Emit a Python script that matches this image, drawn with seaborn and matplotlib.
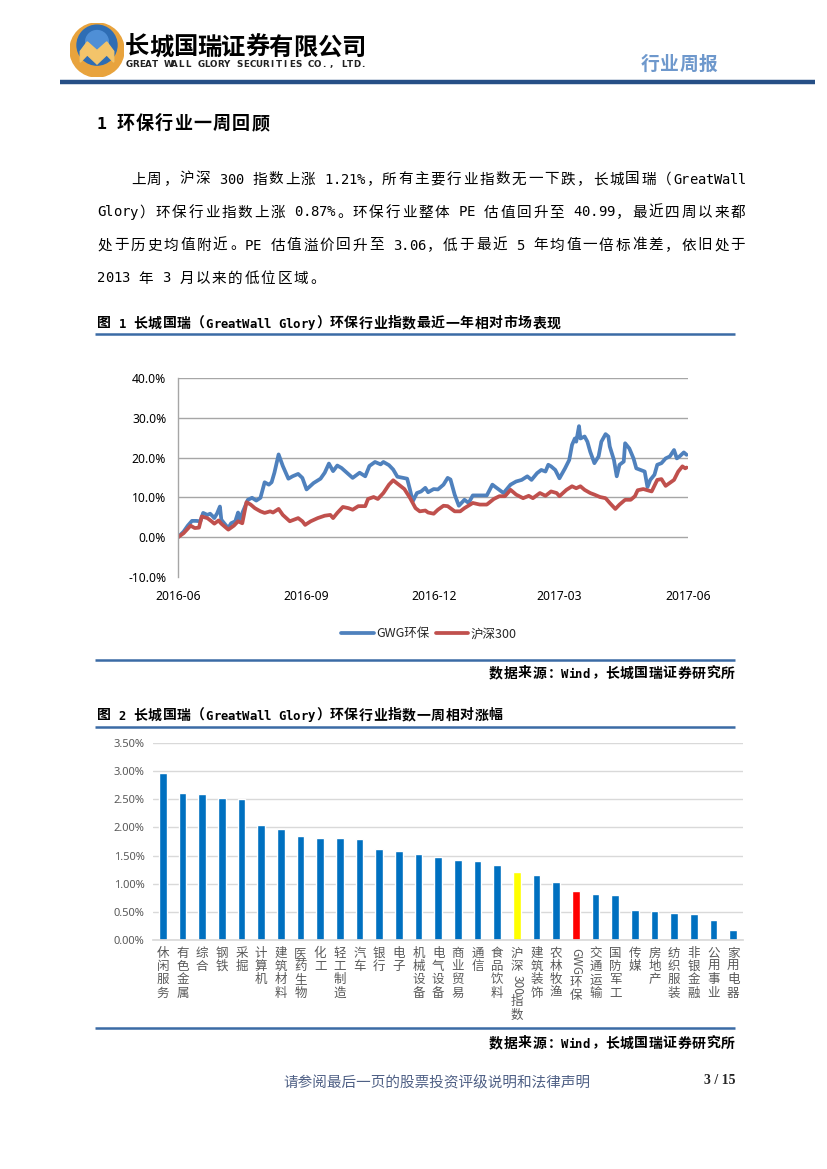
#!/usr/bin/env python3
"""
Rebuilds page 3 of the GWG weekly report: header, intro text,
the one-year relative performance line chart and the weekly
sector return bar chart.
"""

import re

import matplotlib
matplotlib.use('Agg')
import matplotlib.pyplot as plt
import matplotlib.transforms as mtransforms
import matplotlib.ticker as mticker
from matplotlib.lines import Line2D
from matplotlib.patches import Circle, Polygon
import pandas as pd
import seaborn as sns

# ---------------------------------------------------------------- data
gwg_dates = [
    '2016-06-01', '2016-06-05', '2016-06-08', '2016-06-11', '2016-06-14', '2016-06-17',
    '2016-06-19', '2016-06-22', '2016-06-24', '2016-06-26', '2016-06-27', '2016-06-29',
    '2016-07-01', '2016-07-02', '2016-07-05', '2016-07-07', '2016-07-09', '2016-07-12',
    '2016-07-14', '2016-07-15', '2016-07-18', '2016-07-21', '2016-07-24', '2016-07-27',
    '2016-07-30', '2016-08-02', '2016-08-05', '2016-08-07', '2016-08-09', '2016-08-12',
    '2016-08-15', '2016-08-19', '2016-08-22', '2016-08-26', '2016-08-29', '2016-09-01',
    '2016-09-06', '2016-09-11', '2016-09-14', '2016-09-17', '2016-09-20', '2016-09-23',
    '2016-09-26', '2016-10-04', '2016-10-09', '2016-10-13', '2016-10-16', '2016-10-20',
    '2016-10-24', '2016-10-26', '2016-10-30', '2016-11-02', '2016-11-05', '2016-11-12',
    '2016-11-14', '2016-11-16', '2016-11-19', '2016-11-22', '2016-11-25', '2016-11-27',
    '2016-12-01', '2016-12-04', '2016-12-08', '2016-12-11', '2016-12-13', '2016-12-16',
    '2016-12-19', '2016-12-23', '2016-12-26', '2016-12-29', '2017-01-03', '2017-01-08',
    '2017-01-12', '2017-01-15', '2017-01-20', '2017-01-25', '2017-01-29', '2017-02-02',
    '2017-02-06', '2017-02-09', '2017-02-13', '2017-02-16', '2017-02-19', '2017-02-21',
    '2017-02-23', '2017-02-26', '2017-03-01', '2017-03-05', '2017-03-08', '2017-03-10',
    '2017-03-12', '2017-03-13', '2017-03-15', '2017-03-16', '2017-03-19', '2017-03-21',
    '2017-03-23', '2017-03-26', '2017-03-29', '2017-03-31', '2017-04-03', '2017-04-05',
    '2017-04-06', '2017-04-09', '2017-04-11', '2017-04-13', '2017-04-16', '2017-04-17',
    '2017-04-20', '2017-04-23', '2017-04-25', '2017-04-28', '2017-05-01', '2017-05-03',
    '2017-05-05', '2017-05-08', '2017-05-10', '2017-05-13', '2017-05-16', '2017-05-19',
    '2017-05-22', '2017-05-24', '2017-05-26', '2017-05-29', '2017-05-31',
]
gwg_pct = [
    0.0, 1.4, 2.9, 4.1, 4.1, 4.0,
    6.1, 5.6, 5.9, 5.2, 4.8, 6.0,
    7.7, 4.4, 3.1, 2.3, 3.5, 4.0,
    6.2, 4.4, 6.9, 9.4, 9.9, 9.2,
    9.9, 13.8, 13.2, 13.8, 16.2, 20.8,
    17.9, 14.7, 15.3, 15.9, 14.9, 12.0,
    13.6, 14.7, 16.2, 18.5, 16.6, 18.0,
    17.4, 14.9, 16.2, 15.3, 17.9, 18.9,
    18.3, 18.9, 18.1, 17.0, 15.2, 14.7,
    12.0, 9.0, 11.1, 11.5, 12.4, 11.3,
    12.1, 12.0, 13.2, 14.9, 14.5, 10.7,
    7.9, 9.4, 8.6, 10.5, 10.5, 10.5,
    13.2, 12.4, 11.1, 13.2, 14.0, 14.4,
    15.3, 14.4, 16.1, 16.9, 16.5, 18.2,
    17.8, 16.9, 14.8, 17.3, 19.4, 23.2,
    24.8, 24.0, 27.9, 24.8, 25.3, 24.0,
    21.5, 18.6, 20.3, 24.0, 25.9, 25.3,
    22.8, 19.4, 15.3, 18.2, 19.0, 23.6,
    22.3, 19.8, 17.3, 16.9, 16.5, 12.6,
    14.4, 15.7, 18.2, 18.6, 19.8, 20.3,
    21.9, 19.8, 20.3, 21.3, 20.7,
]

hs300_dates = [
    '2016-06-01', '2016-06-05', '2016-06-10', '2016-06-13', '2016-06-16', '2016-06-18',
    '2016-06-22', '2016-06-25', '2016-06-27', '2016-06-30', '2016-07-02', '2016-07-07',
    '2016-07-11', '2016-07-14', '2016-07-17', '2016-07-20', '2016-07-23', '2016-07-26',
    '2016-07-30', '2016-08-02', '2016-08-06', '2016-08-08', '2016-08-12', '2016-08-15',
    '2016-08-20', '2016-08-26', '2016-08-29', '2016-08-31', '2016-09-04', '2016-09-09',
    '2016-09-14', '2016-09-18', '2016-09-20', '2016-09-23', '2016-09-27', '2016-10-01',
    '2016-10-04', '2016-10-08', '2016-10-13', '2016-10-15', '2016-10-19', '2016-10-22',
    '2016-10-26', '2016-10-30', '2016-11-02', '2016-11-06', '2016-11-10', '2016-11-14',
    '2016-11-18', '2016-11-21', '2016-11-25', '2016-11-27', '2016-12-01', '2016-12-04',
    '2016-12-08', '2016-12-11', '2016-12-16', '2016-12-20', '2016-12-23', '2016-12-29',
    '2017-01-03', '2017-01-08', '2017-01-13', '2017-01-17', '2017-01-21', '2017-01-25',
    '2017-01-29', '2017-02-03', '2017-02-07', '2017-02-10', '2017-02-15', '2017-02-19',
    '2017-02-23', '2017-02-27', '2017-03-01', '2017-03-06', '2017-03-10', '2017-03-13',
    '2017-03-16', '2017-03-19', '2017-03-23', '2017-03-26', '2017-03-30', '2017-04-03',
    '2017-04-06', '2017-04-10', '2017-04-13', '2017-04-17', '2017-04-21', '2017-04-24',
    '2017-04-26', '2017-04-30', '2017-05-02', '2017-05-06', '2017-05-10', '2017-05-13',
    '2017-05-16', '2017-05-18', '2017-05-22', '2017-05-25', '2017-05-28', '2017-05-30',
    '2017-05-31',
]
hs300_pct = [
    0.0, 1.0, 2.9, 2.3, 2.4, 5.2,
    4.8, 4.0, 3.4, 4.2, 3.4, 1.9,
    2.9, 4.0, 3.5, 8.8, 8.2, 7.3,
    6.5, 6.1, 6.5, 6.2, 7.1, 5.6,
    4.0, 4.8, 4.0, 3.1, 4.0, 4.8,
    5.4, 5.6, 4.8, 6.1, 7.6, 7.3,
    6.9, 7.8, 7.8, 9.6, 10.1, 9.6,
    11.1, 13.2, 14.3, 13.2, 12.1, 9.9,
    7.3, 6.5, 6.7, 6.2, 5.9, 6.9,
    7.9, 7.8, 6.5, 6.5, 7.3, 8.6,
    8.2, 8.2, 9.6, 10.3, 10.3, 11.9,
    10.7, 9.8, 10.4, 9.8, 11.1, 10.4,
    11.5, 11.1, 10.3, 11.9, 12.8, 12.3,
    12.8, 11.9, 11.1, 10.7, 10.1, 9.8,
    8.6, 7.1, 8.2, 9.4, 9.4, 10.3,
    11.8, 12.1, 11.9, 11.5, 14.4, 14.6,
    12.9, 13.4, 14.4, 16.5, 17.8, 17.3,
    17.5,
]

line_ticks = ['2016-06-01', '2016-09-01', '2016-12-01', '2017-03-01', '2017-06-01']
line_tick_labels = ['2016-06', '2016-09', '2016-12', '2017-03', '2017-06']

industries = [
    '休闲服务', '有色金属', '综合', '钢铁', '采掘', '计算机', '建筑材料', '医药生物',
    '化工', '轻工制造', '汽车', '银行', '电子', '机械设备', '电气设备', '商业贸易',
    '通信', '食品饮料', '沪深300指数', '建筑装饰', '农林牧渔', 'GWG环保', '交通运输',
    '国防军工', '传媒', '房地产', '纺织服装', '非银金融', '公用事业', '家用电器',
]
weekly_pct = [
    2.97, 2.61, 2.59, 2.53, 2.51, 2.05, 1.98, 1.84,
    1.82, 1.81, 1.80, 1.62, 1.58, 1.52, 1.47, 1.43,
    1.41, 1.33, 1.21, 1.15, 1.03, 0.87, 0.81,
    0.80, 0.53, 0.52, 0.48, 0.46, 0.35, 0.17,
]

para_lines = [
    '上周，沪深 300 指数上涨 1.21%，所有主要行业指数无一下跌，长城国瑞（GreatWall',
    'Glory）环保行业指数上涨 0.87%。环保行业整体 PE 估值回升至 40.99，最近四周以来都',
    '处于历史均值附近。PE 估值溢价回升至 3.06，低于最近 5 年均值一倍标准差，依旧处于',
    '2013 年 3 月以来的低位区域。',
]

# ---------------------------------------------------------------- page
W, H = 827, 1169
BLUE_RULE = '#3B6BA5'
sns.set_theme(style='white')
plt.rcParams['font.family'] = ['Noto Sans CJK SC', 'DejaVu Sans']

fig = plt.figure(figsize=(W / 100, H / 100), dpi=100)
fig.patch.set_facecolor('white')


def fx(x):
    return x / W


def fy(y):
    return 1 - y / H


def rule(x0, x1, y, color=BLUE_RULE, lw=1.8):
    fig.add_artist(Line2D([fx(x0), fx(x1)], [fy(y), fy(y)], color=color, lw=lw,
                          solid_capstyle='butt'))


def mono(x0, yb, s, unit, size, weight='normal', color='black', x_end=None,
         align='left', family=None):
    """Grid text: CJK full width, ASCII half width in a mono face (like the Word page)."""
    widths = [0.5 if ord(c) < 128 else 1.0 for c in s]
    if x_end is not None and align == 'justify':
        unit = (x_end - x0) / sum(widths)
    if align == 'right':
        x0 = x_end - unit * sum(widths)
    # ascii glyph size so that a 0.6 em mono advance fits the half cell
    ascii_size = min(size, 0.5 * unit / 0.6 * 0.72 * 1.02)
    x = x0
    for c, w in zip(s, widths):
        cw = w * unit
        kw = dict(fontsize=size, fontweight=weight, color=color, va='baseline')
        if family:
            kw['family'] = family
        elif ord(c) < 128:
            kw['family'] = ['DejaVu Sans Mono']
            kw['fontsize'] = ascii_size
        if c != ' ':
            if c in '，。、：；':
                fig.text(fx(x + 0.1 * unit), fy(yb), c, ha='left', **kw)
            elif c == '（':
                fig.text(fx(x + cw - 0.1 * unit), fy(yb), c, ha='right', **kw)
            elif c == '）':
                fig.text(fx(x + 0.1 * unit), fy(yb), c, ha='left', **kw)
            else:
                fig.text(fx(x + cw / 2), fy(yb), c, ha='center', **kw)
        x += cw


# header: logo, company name, report type
ax_logo = fig.add_axes([fx(70), fy(77), 54 / W, 54 / H])
ax_logo.set_xlim(-1, 1)
ax_logo.set_ylim(-1, 1)
ax_logo.axis('off')
ax_logo.add_patch(Circle((0, 0), 1.0, color='#E8A33D'))
ax_logo.add_patch(Circle((0, 0.18), 0.74, color='#2E6DB4'))
ax_logo.add_patch(Circle((0, 0.3), 0.42, color='#4F8FD6'))
ax_logo.add_patch(Polygon([(-0.62, -0.05), (-0.36, 0.3), (0, -0.02), (0.36, 0.3), (0.62, -0.05),
                           (0.62, -0.45), (0.36, -0.18), (0, -0.52), (-0.36, -0.18),
                           (-0.62, -0.45)], closed=True, color='#F3C46A'))

mono(125, 54.5, '长城国瑞证券有限公司', 24, 17.5, weight='bold')
mono(126, 67, 'GREAT WALL GLORY SECURITIES CO., LTD.', 13, 6.3, weight='bold',
     color='#222222', family=['DejaVu Sans'])
mono(640, 70, '行业周报', 19.5, 13.5, weight='bold', color='#6E98CC')
rule(60, 815, 82, color='#264F86', lw=3.2)

# section heading and paragraph
mono(97, 129, '1 环保行业一周回顾', 19.2, 13, weight='bold')
para_y = [183.5, 216.5, 249.5, 282.5]
mono(130, para_y[0], para_lines[0], 16.3, 10.5, x_end=746, align='justify')
mono(97, para_y[1], para_lines[1], 16.3, 10.5, x_end=746, align='justify')
mono(97, para_y[2], para_lines[2], 16.3, 10.5, x_end=746, align='justify')
mono(97, para_y[3], para_lines[3], 16.3, 10.5)

# figure 1 caption
mono(97, 327.5, '图 1 长城国瑞（GreatWall Glory）环保行业指数最近一年相对市场表现', 14.5, 10,
     weight='bold')
rule(95, 735, 334)

# ---------------------------------------------------------------- line chart
ax1 = fig.add_axes([fx(178), fy(577), (688 - 178) / W, (577 - 378) / H])
sns.lineplot(x=pd.to_datetime(gwg_dates), y=gwg_pct, ax=ax1, color='#4F81BD',
             lw=2.7, label='GWG环保')
sns.lineplot(x=pd.to_datetime(hs300_dates), y=hs300_pct, ax=ax1, color='#C0504D',
             lw=2.7, label='沪深300')
ax1.set_xlim(pd.Timestamp(line_ticks[0]), pd.Timestamp(line_ticks[-1]))
ax1.set_ylim(-10, 40)
ax1.set_yticks([-10, 0, 10, 20, 30, 40])
ax1.yaxis.set_major_formatter(mticker.FuncFormatter(lambda v, p: f'{v:.1f}%'))
ax1.set_xticks(pd.to_datetime(line_ticks))
ax1.set_xticklabels(line_tick_labels)
ax1.grid(axis='y', color='#A6A6A6', lw=1.0)
ax1.grid(axis='x', visible=False)
ax1.yaxis.get_gridlines()[0].set_visible(False)
for side in ['top', 'right', 'bottom']:
    ax1.spines[side].set_visible(False)
ax1.spines['left'].set_color('#A6A6A6')
ax1.spines['left'].set_linewidth(1.0)
ax1.tick_params(axis='both', length=0, labelsize=8.7, colors='black')
ax1.tick_params(axis='y', pad=8.5)
ax1.tick_params(axis='x', pad=9)
for lab in ax1.get_xticklabels() + ax1.get_yticklabels():
    lab.set_family(['Noto Sans', 'DejaVu Sans'])
ax1.set_xlabel('')
ax1.set_ylabel('')
ax1.legend(loc='center', bbox_to_anchor=(fx(429), fy(634)), bbox_transform=fig.transFigure,
           ncol=2, frameon=False, fontsize=9, handlelength=2.6, handletextpad=0.2,
           columnspacing=0.5)

rule(95, 735, 660)
mono(0, 677.5, '数据来源：Wind，长城国瑞证券研究所', 14.5, 10, weight='bold', x_end=735,
     align='right')

# figure 2 caption
mono(97, 719.5, '图 2 长城国瑞（GreatWall Glory）环保行业指数一周相对涨幅', 14.5, 10,
     weight='bold')
rule(95, 735, 727)

# ---------------------------------------------------------------- bar chart
bar_colors = ['#0070C0'] * len(industries)
bar_colors[industries.index('沪深300指数')] = '#FFFF00'
bar_colors[industries.index('GWG环保')] = '#FF0000'

ax2 = fig.add_axes([fx(153), fy(940), (743 - 153) / W, (940 - 743) / H])
sns.barplot(x=industries, y=weekly_pct, hue=industries, palette=bar_colors, legend=False,
            width=0.38, saturation=1, ax=ax2)
ax2.set_xlim(-0.5, len(industries) - 0.5)
ax2.set_ylim(0, 3.5)
ax2.set_yticks([0, 0.5, 1.0, 1.5, 2.0, 2.5, 3.0, 3.5])
ax2.yaxis.set_major_formatter(mticker.FuncFormatter(lambda v, p: f'{v:.2f}%'))
ax2.grid(axis='y', color='#D9D9D9', lw=1.0)
ax2.set_axisbelow(True)
for side in ['top', 'right', 'left']:
    ax2.spines[side].set_visible(False)
ax2.spines['bottom'].set_color('#D9D9D9')
ax2.tick_params(axis='y', length=0, labelsize=8, colors='#595959', pad=6)
for lab in ax2.get_yticklabels():
    lab.set_family(['Noto Sans', 'DejaVu Sans'])
ax2.set_xticks([])
ax2.set_xlabel('')
ax2.set_ylabel('')

# vertical category labels, stacked one character per line
renderer = fig.canvas.get_renderer()
lab_trans = mtransforms.blended_transform_factory(ax2.transData, fig.transFigure)
for i, name in enumerate(industries):
    y = 947.0
    for tok in re.findall(r'[A-Za-z0-9]+|.', name):
        if tok.isascii():
            t = fig.text(i, fy(y + 1.5), tok, rotation=-90, ha='center', va='top',
                         transform=lab_trans, fontsize=8.6, color='#595959')
            y += t.get_window_extent(renderer).height + 2
        else:
            fig.text(i, fy(y + 6.5), tok, ha='center', va='center', transform=lab_trans,
                     fontsize=9, color='#595959')
            y += 13.2

rule(95, 735, 1028)
mono(0, 1047.5, '数据来源：Wind，长城国瑞证券研究所', 14.5, 10, weight='bold', x_end=735,
     align='right')

# footer
fig.text(fx(437), fy(1083), '请参阅最后一页的股票投资评级说明和法律声明', ha='center',
         va='center', fontsize=10.5, color='#4F6085')
fig.text(fx(735), fy(1080), '3 / 15', ha='right', va='center', fontsize=10,
         fontweight='bold', family=['Liberation Serif', 'DejaVu Serif'])

fig.savefig('out.png', dpi=100)
plt.close(fig)
